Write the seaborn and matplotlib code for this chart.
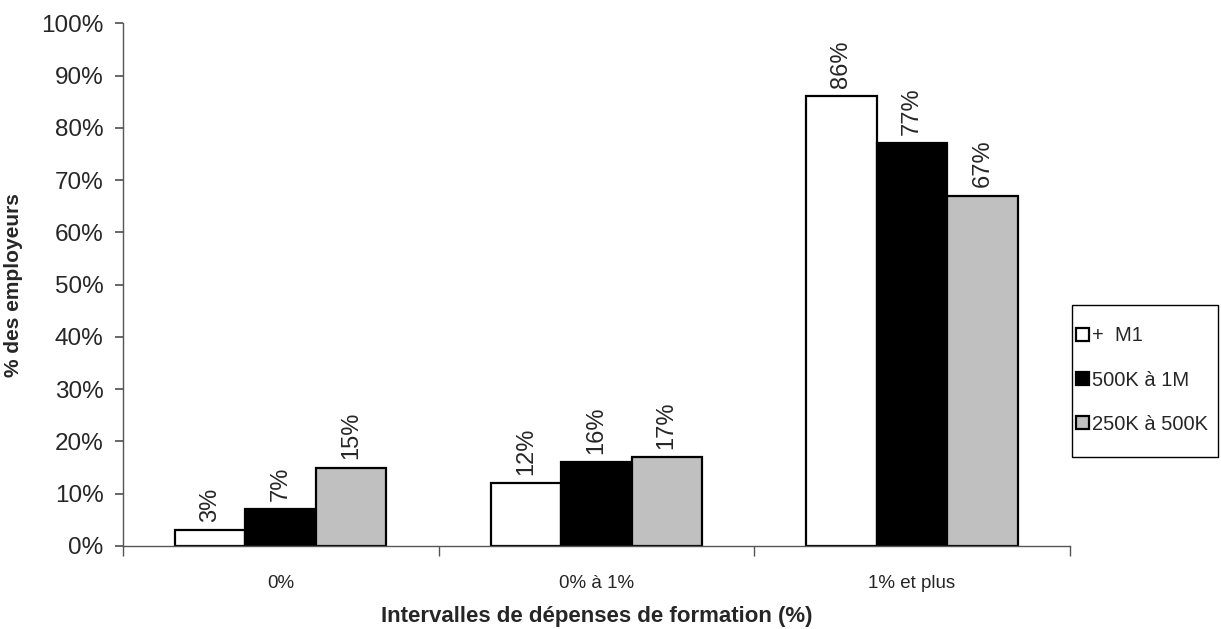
import numpy as np
import pandas as pd
import matplotlib.pyplot as plt
import seaborn as sns
from matplotlib.patches import Rectangle
sns.set_theme(style='white')
plt.rcParams['font.family'] = ['Liberation Sans', 'DejaVu Sans']

# data
intervalles = ['0%', '0% à 1%', '1% et plus']
series = ['+  M1', '500K à 1M', '250K à 500K']
m1 = [3, 12, 86]
k500_1m = [7, 16, 77]
k250_500 = [15, 17, 67]
colors = ['white', 'black', '#c0c0c0']

if __name__ == '__main__':
    df = pd.DataFrame({
        'intervalle': intervalles * 3,
        'groupe': np.repeat(series, 3),
        'pct': m1 + k500_1m + k250_500,
    })

    W, H = 1221, 629
    fig = plt.figure(figsize=(W / 100, H / 100), dpi=100)
    ax = fig.add_axes([0.1007, 0.132, 0.7753, 0.831])
    sns.barplot(data=df, x='intervalle', y='pct', hue='groupe', order=intervalles,
                hue_order=series, palette=colors, width=0.67, gap=0,
                edgecolor='black', linewidth=1.6, ax=ax)

    # value labels, rotated like the original
    for cont in ax.containers:
        ax.bar_label(cont, labels=['%d%%' % v for v in cont.datavalues],
                     rotation=90, padding=6, fontsize=17)

    ax.set_ylim(0, 100)
    ax.set_xlim(-0.5, 2.5)
    ax.set_yticks(range(0, 101, 10))
    ax.set_yticklabels(['%d%%' % v for v in range(0, 101, 10)], fontsize=17.5)
    ax.tick_params(axis='y', left=True, length=6, color='#555555', pad=8)
    ax.tick_params(axis='x', which='major', length=0, labelsize=13.5, pad=21)
    ax.set_xticks([-0.5, 0.5, 1.5, 2.5], minor=True)
    ax.tick_params(axis='x', which='minor', bottom=True, length=7, color='#555555')

    sns.despine(ax=ax)
    for s in ['left', 'bottom']:
        ax.spines[s].set_color('#555555')
        ax.spines[s].set_linewidth(1.0)

    ax.set_xlabel('Intervalles de dépenses de formation (%)', fontsize=16,
                  fontweight='bold', labelpad=10)
    ax.set_ylabel('% des employeurs', fontsize=15, fontweight='bold', labelpad=13)

    # legend box drawn separately (the original has tight sides, tall padding)
    box = Rectangle((1072 / W, 1 - 457 / H), 146 / W, 152 / H,
                    transform=fig.transFigure, facecolor='white',
                    edgecolor='black', linewidth=1.0, zorder=5, clip_on=False)
    ax.add_patch(box)
    leg = ax.legend(loc='center left', bbox_to_anchor=(1074 / W, 1 - 380 / H),
                    bbox_transform=fig.transFigure, fontsize=14.5, frameon=False,
                    handlelength=0.65, handleheight=0.65, handletextpad=0.15,
                    labelspacing=1.25, borderpad=0.1, borderaxespad=0)
    leg.set_zorder(6)

    plt.savefig('out.png', dpi=100)
